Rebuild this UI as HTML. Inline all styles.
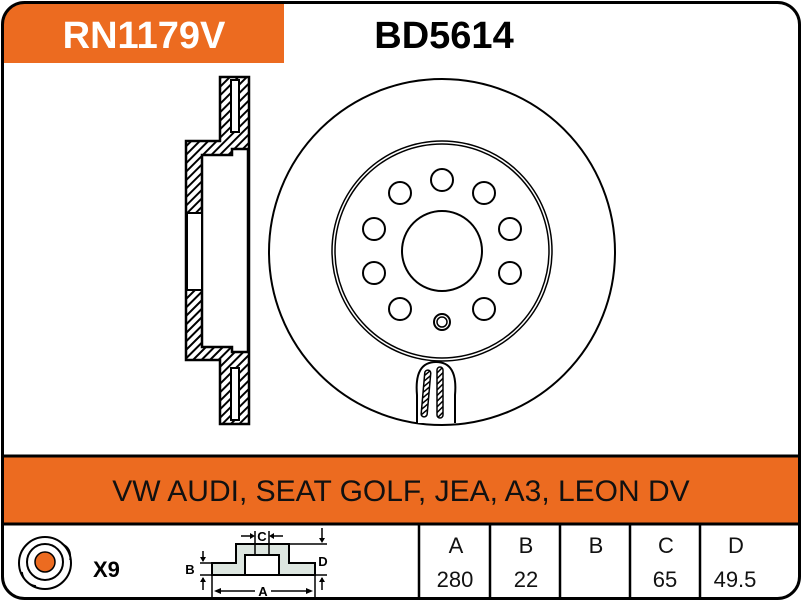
<!DOCTYPE html>
<html><head><style>body{margin:0;background:#fff}svg{display:block}text{font-family:"Liberation Sans",Arial,sans-serif}</style></head>
<body>
<svg width="802" height="602" viewBox="0 0 802 602" xmlns="http://www.w3.org/2000/svg">
<defs>
<pattern id="h" patternUnits="userSpaceOnUse" width="6" height="6" patternTransform="rotate(45)">
<rect width="6" height="6" fill="#fff"/><rect x="0" y="0" width="2" height="6" fill="#000"/>
</pattern>
<pattern id="h2" patternUnits="userSpaceOnUse" width="4" height="4" patternTransform="rotate(45)">
<rect width="4" height="4" fill="#fff"/><rect x="0" y="0" width="1.5" height="4" fill="#000"/>
</pattern>
</defs>
<path d="M3,63 L3,25 Q3,3 25,3 L284,3 L284,63 Z" fill="#ec6b20"/>
<text x="144" y="48" font-size="38" font-weight="bold" fill="#fff" text-anchor="middle">RN1179V</text>
<text x="444" y="48" font-size="38" font-weight="bold" fill="#000" text-anchor="middle">BD5614</text>
<rect x="3" y="456" width="796" height="67" fill="#ec6b20"/>
<line x1="2" y1="456" x2="800" y2="456" stroke="#000" stroke-width="3"/>
<line x1="2" y1="524" x2="800" y2="524" stroke="#000" stroke-width="3"/>
<text x="401" y="501" font-size="30" fill="#111" text-anchor="middle">VW AUDI, SEAT GOLF, JEA, A3, LEON DV</text>
<rect x="2.5" y="2.5" width="797" height="596" rx="22" ry="22" fill="none" stroke="#000" stroke-width="3"/>
<g stroke="#000" stroke-width="2.5">
<line x1="419" y1="524" x2="419" y2="598"/><line x1="490" y1="524" x2="490" y2="598"/>
<line x1="560" y1="524" x2="560" y2="598"/><line x1="630" y1="524" x2="630" y2="598"/>
<line x1="700" y1="524" x2="700" y2="598"/>
</g>
<g font-size="22" text-anchor="middle" fill="#111">
<text x="456" y="553">A</text><text x="526" y="553">B</text><text x="596" y="553">B</text><text x="666" y="553">C</text><text x="736" y="553">D</text>
<text x="455" y="587">280</text><text x="526" y="587">22</text><text x="665" y="587">65</text><text x="735" y="587">49.5</text>
</g>
<circle cx="45" cy="563" r="26" fill="none" stroke="#000" stroke-width="2"/>
<circle cx="45" cy="562" r="18" fill="none" stroke="#000" stroke-width="2"/>
<circle cx="45" cy="562" r="10" fill="#ec6b20" stroke="#000" stroke-width="1.5"/>
<path d="M62,544 Q72,548 70,560" fill="none" stroke="#000" stroke-width="1.5"/>
<path d="M22,572 Q24,584 36,586" fill="none" stroke="#000" stroke-width="1.5"/>
<text x="93" y="577" font-size="22" font-weight="bold">X9</text>
<path d="M212,575 L212,563 L236,563 L236,544 L289,544 L289,563 L315,563 L315,575 Z" fill="#dde6e0" stroke="#000" stroke-width="2"/>
<rect x="245" y="555" width="34" height="20" fill="#fff" stroke="#000" stroke-width="2"/>
<g stroke="#000" stroke-width="1.5" fill="none">
<line x1="255" y1="531" x2="255" y2="555"/><line x1="269" y1="531" x2="269" y2="555"/>
<line x1="289" y1="544" x2="327" y2="544"/>
<line x1="200" y1="563" x2="212" y2="563"/><line x1="200" y1="575" x2="327" y2="575"/>
<line x1="212" y1="575" x2="212" y2="598"/><line x1="315" y1="575" x2="315" y2="598"/>
<line x1="241" y1="536" x2="253" y2="536"/><line x1="271" y1="536" x2="283" y2="536"/>
<line x1="322" y1="528" x2="322" y2="541"/>
<line x1="203" y1="551" x2="203" y2="561"/><line x1="203" y1="578" x2="203" y2="590"/>
<line x1="322" y1="578" x2="322" y2="590"/>
<line x1="218" y1="591" x2="255" y2="591"/><line x1="271" y1="591" x2="309" y2="591"/>
</g>
<g fill="#000">
<path d="M255,536 l-5,-3 v6z"/><path d="M269,536 l5,-3 v6z"/>
<path d="M322,543 l-3,-5 h6z"/><path d="M203,562 l-3,-5 h6z"/><path d="M203,577 l-3,5 h6z"/><path d="M322,577 l-3,5 h6z"/>
<path d="M214,591 l7,-3 v6z"/><path d="M313,591 l-7,-3 v6z"/>
</g>
<g font-size="13" font-weight="bold" text-anchor="middle">
<text x="262" y="541">C</text><text x="190" y="574">B</text><text x="323" y="566">D</text><text x="263" y="596">A</text>
</g>
<path d="M220,77 L249,77 L249,424 L220,424 L220,360 L186,360 L186,141 L220,141 Z" fill="url(#h)" stroke="#000" stroke-width="2.5"/>
<path d="M202,155 L232,155 L232,149 L248,149 L248,352 L232,352 L232,347 L202,347 Z" fill="#fff" stroke="#000" stroke-width="2.5"/>
<rect x="187" y="213" width="15" height="77" fill="#fff" stroke="#000" stroke-width="2"/>
<rect x="231" y="80" width="8" height="52" fill="#fff" stroke="#000" stroke-width="2"/>
<rect x="231" y="368" width="8" height="52" fill="#fff" stroke="#000" stroke-width="2"/>
<g fill="none" stroke="#000" stroke-width="2">
<circle cx="442" cy="252" r="173"/>
<circle cx="442" cy="251" r="110" stroke-width="1.5"/>
<circle cx="442" cy="251" r="107" stroke-width="1.5"/>
<circle cx="442" cy="251" r="40"/>
<circle cx="442" cy="180" r="11"/>
<circle cx="484" cy="193" r="11"/><circle cx="400" cy="193" r="11"/>
<circle cx="510" cy="229" r="11"/><circle cx="374" cy="229" r="11"/>
<circle cx="510" cy="273" r="11"/><circle cx="374" cy="273" r="11"/>
<circle cx="484" cy="309" r="11"/><circle cx="400" cy="309" r="11"/>
<circle cx="442" cy="322" r="8"/><circle cx="442" cy="322" r="5" stroke-width="1.5"/>
</g>
<path d="M417,423 L417,395 Q414,362 436,362 Q458,362 455,395 L455,423" fill="#fff" stroke="#000" stroke-width="2"/>
<rect x="423" y="370" width="6" height="47" rx="3" fill="url(#h2)" stroke="#000" stroke-width="1.5" transform="rotate(5 426 393)"/>
<rect x="437" y="367" width="6" height="51" rx="3" fill="url(#h2)" stroke="#000" stroke-width="1.5"/>
</svg>
</body></html>
